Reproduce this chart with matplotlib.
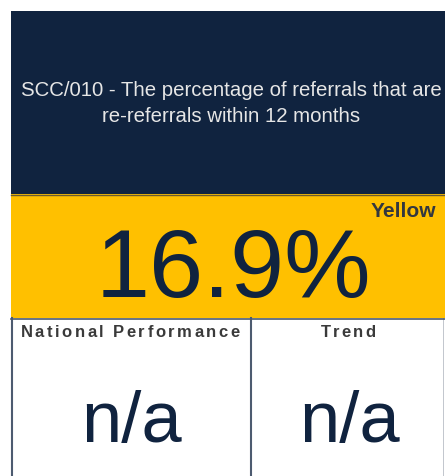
import matplotlib.pyplot as plt
from matplotlib.patches import Rectangle

# card content
title_lines = ["SCC/010 - The percentage of referrals that are", "re-referrals within 12 months"]
value_text = "16.9%"
rating = "Yellow"
cell_labels = ["National Performance", "Trend"]
cell_values = ["n/a", "n/a"]

navy = "#10233f"
yellow = "#ffc000"
border = "#4d5b70"

W, H = 445, 476
fig = plt.figure(figsize=(W / 100, H / 100), dpi=100)
ax = fig.add_axes([0, 0, 1, 1])
ax.set_xlim(0, W)
ax.set_ylim(H, 0)
ax.axis("off")
renderer = fig.canvas.get_renderer()


def text_width(s, **kw):
    t = ax.text(0, 0, s + "|", **kw)
    w1 = t.get_window_extent(renderer).width
    t.remove()
    t = ax.text(0, 0, "|", **kw)
    w2 = t.get_window_extent(renderer).width
    t.remove()
    return w1 - w2


def spaced_text(xc, y, s, spacing, **kw):
    # letter-spaced label, drawn char by char
    total = text_width(s, **kw) + spacing * (len(s) - 1)
    x0 = xc - total / 2
    for i, ch in enumerate(s):
        if ch == " ":
            continue
        x = x0 + text_width(s[:i], **kw) + spacing * i
        ax.text(x, y, ch, ha="left", va="baseline", **kw)


# header panel
ax.add_patch(Rectangle((11, 11), W - 11, 183, facecolor=navy, edgecolor="none"))
ax.text(231, 91, title_lines[0], color="#e6e6e6", fontsize=14.7, family="Liberation Sans",
        ha="center", va="center")
ax.text(231, 116, title_lines[1], color="#e6e6e6", fontsize=14.7, family="Liberation Sans",
        ha="center", va="center")

# value panel
ax.add_patch(Rectangle((11, 194), W - 11, 124, facecolor=yellow, edgecolor="none"))
ax.plot([11, W], [194.5, 194.5], color="#6a5a30", lw=1)
ax.text(233, 297, value_text, color=navy, fontsize=70, family="Liberation Sans",
        ha="center", va="baseline")
ax.text(436, 217, rating, color="#33373f", fontsize=15, fontweight="bold",
        family="Liberation Sans", ha="right", va="baseline")

# bottom cells
cells = [(12, 251), (251, 443)]
centers = [132, 350]
ax.plot([11, W], [318.5, 318.5], color=border, lw=1.2)
for (x0, x1), xc, lab, val in zip(cells, centers, cell_labels, cell_values):
    ax.plot([x0, x0], [318, H], color=border, lw=1.5)
    ax.plot([x1, x1], [318, H], color=border, lw=1.2 if x1 != 443 else 0.6,
            alpha=1 if x1 != 443 else 0.4)
    spaced_text(xc - 2, 337, lab, 2.5, color="#3a3a3a", fontsize=12,
                fontweight="bold", family="Liberation Sans")
    ax.text(xc, 442, val, color=navy, fontsize=52, family="Liberation Sans",
            ha="center", va="baseline")

fig.savefig("out.png", dpi=100)
